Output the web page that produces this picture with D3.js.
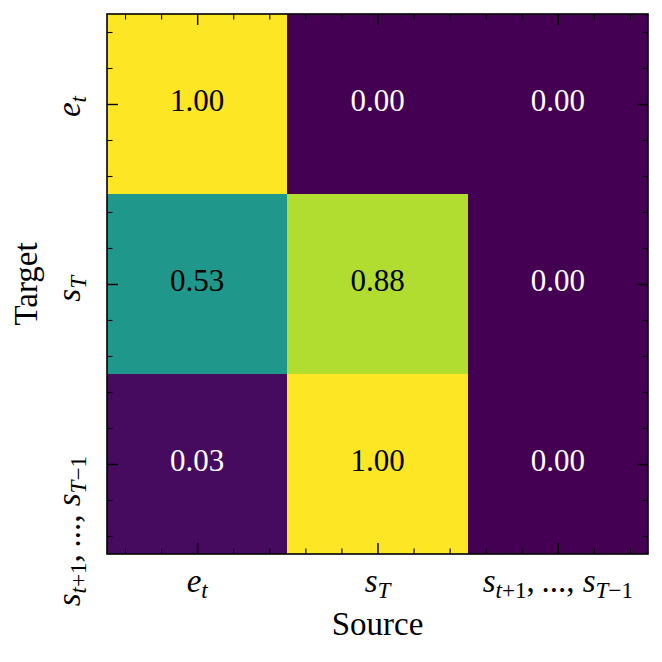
<!DOCTYPE html>
<html>
<head>
<meta charset="utf-8">
<script src="https://d3js.org/d3.v7.min.js"></script>
<style>
  body { margin: 0; background: #fff; }
  svg text { font-family: "Liberation Serif", "DejaVu Serif", serif; }
</style>
</head>
<body>
<div id="chart"></div>
<script>
// Data
const sources = ["e_t", "s_T", "s_{t+1},\u2009..., s_{T\u22121}"];
const targets = ["e_t", "s_T", "s_{t+1},\u2009..., s_{T\u22121}"];
const values = [
  [1.00, 0.00, 0.00],
  [0.53, 0.88, 0.00],
  [0.03, 1.00, 0.00]
];
const xTitle = "Source";
const yTitle = "Target";

const W = 662, H = 662;
const margin = {left: 107, top: 14, right: 14, bottom: 108};
const w = W - margin.left - margin.right;
const h = H - margin.top - margin.bottom;
const fs = 33;     // labels
const fsVal = 31;  // cell annotations

const svg = d3.select("#chart").append("svg")
  .attr("width", W).attr("height", H);
const g = svg.append("g").attr("transform", `translate(${margin.left},${margin.top})`);

// index scales, like imshow extent -0.5 .. n-0.5
const x = d3.scaleLinear().domain([-0.5, sources.length - 0.5]).range([0, w]);
const y = d3.scaleLinear().domain([-0.5, targets.length - 0.5]).range([0, h]);
const color = d3.scaleSequential(d3.interpolateViridis).domain([0, 1]);

// cells
const cells = [];
values.forEach((row, r) => row.forEach((v, c) => cells.push({r, c, v})));

g.selectAll("rect.cell").data(cells).enter().append("rect")
  .attr("class", "cell")
  .attr("x", d => x(d.c - 0.5))
  .attr("y", d => y(d.r - 0.5))
  .attr("width", x(0.5) - x(-0.5))
  .attr("height", y(0.5) - y(-0.5))
  .attr("fill", d => color(d.v))
  .attr("shape-rendering", "crispEdges");

g.selectAll("text.val").data(cells).enter().append("text")
  .attr("class", "val")
  .attr("x", d => x(d.c))
  .attr("y", d => y(d.r))
  .attr("dy", "0.24em")
  .attr("text-anchor", "middle")
  .style("font-size", fsVal + "px")
  .attr("fill", d => d.v > 0.5 ? "#000" : "#fff")
  .text(d => d.v.toFixed(2));

// ticks, inward on all four sides
const major = d3.range(sources.length);
const minor = d3.range(-0.4, sources.length - 0.5, 0.2)
  .map(d => +d.toFixed(1))
  .filter(d => Math.abs(d - Math.round(d)) > 1e-6);

function tickAxis(axis, vals, size, tr, sw) {
  const a = g.append("g").attr("transform", tr)
    .call(axis.tickValues(vals).tickSize(-size).tickFormat(""));
  a.select(".domain").remove();
  a.selectAll("line").attr("stroke", "#000").attr("stroke-width", sw);
}
[[major, 11, 1.4], [minor, 5.5, 1.1]].forEach(([vals, size, sw]) => {
  tickAxis(d3.axisBottom(x), vals, size, `translate(0,${h})`, sw);
  tickAxis(d3.axisTop(x), vals, size, "translate(0,0)", sw);
  tickAxis(d3.axisLeft(y), vals, size, "translate(0,0)", sw);
  tickAxis(d3.axisRight(y), vals, size, `translate(${w},0)`, sw);
});

g.append("rect")
  .attr("width", w).attr("height", h)
  .attr("fill", "none").attr("stroke", "#000").attr("stroke-width", 1.6);

// tiny math-like label writer: letters italic, "_x" or "_{..}" subscripts
function mathText(text, str) {
  const segs = [];
  let i = 0, buf = "";
  while (i < str.length) {
    if (str[i] === "_") {
      if (buf) { segs.push({t: buf, sub: false}); buf = ""; }
      i++;
      let grp;
      if (str[i] === "{") { const j = str.indexOf("}", i); grp = str.slice(i + 1, j); i = j + 1; }
      else { grp = str[i]; i++; }
      segs.push({t: grp, sub: true});
    } else { buf += str[i]; i++; }
  }
  if (buf) segs.push({t: buf, sub: false});
  const shift = fs * 0.18;
  let down = false;
  segs.forEach(s => {
    s.t.match(/[A-Za-z]+|[^A-Za-z]+/g).forEach(run => {
      const ts = text.append("tspan").text(run)
        .style("font-style", /[A-Za-z]/.test(run) ? "italic" : "normal")
        .style("font-size", (s.sub ? fs * 0.7 : fs) + "px");
      if (s.sub && !down) { ts.attr("dy", shift); down = true; }
      else if (!s.sub && down) { ts.attr("dy", -shift); down = false; }
    });
  });
}

// x tick labels
sources.forEach((s, i) => {
  const t = g.append("text")
    .attr("x", x(i)).attr("y", h + 38)
    .attr("text-anchor", "middle")
    .style("font-size", fs + "px");
  mathText(t, s);
});

// y tick labels, rotated
targets.forEach((s, i) => {
  const t = g.append("text")
    .attr("transform", `translate(-27,${y(i) - 8}) rotate(-90)`)
    .attr("text-anchor", "end")
    .style("font-size", fs + "px");
  mathText(t, s);
});

// axis titles
g.append("text")
  .attr("x", w / 2).attr("y", h + 81)
  .attr("text-anchor", "middle")
  .style("font-size", fs + "px")
  .text(xTitle);

g.append("text")
  .attr("transform", `translate(-70,${h / 2}) rotate(-90)`)
  .attr("text-anchor", "middle")
  .style("font-size", fs + "px")
  .text(yTitle);
</script>
</body>
</html>
